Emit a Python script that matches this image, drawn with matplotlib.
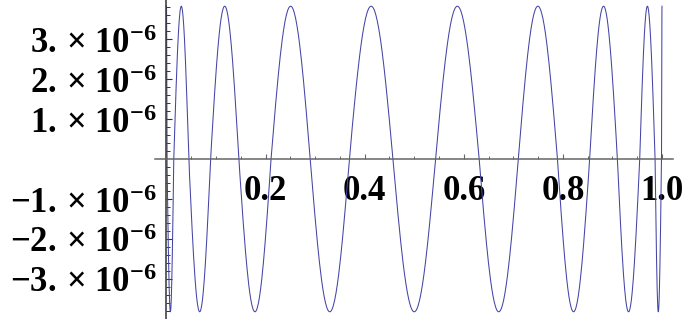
import matplotlib
matplotlib.use("Agg")
import matplotlib.pyplot as plt
import numpy as np

plt.rcParams['mathtext.fontset'] = 'custom'
plt.rcParams['mathtext.rm'] = 'Liberation Serif:bold'
plt.rcParams['mathtext.bf'] = 'Liberation Serif:bold'
plt.rcParams['mathtext.it'] = 'Liberation Serif:bold'

# zero crossings of the error curve
zeros = [0.001, 0.0147, 0.045, 0.089, 0.146, 0.211, 0.290, 0.369, 0.457,
         0.543, 0.631, 0.710, 0.789, 0.854, 0.910, 0.955, 0.986, 0.999]
amplitude = 3.82e-6
x_start, x_end = 0.0, 1.0

xticks_major = [0.2, 0.4, 0.6, 0.8, 1.0]
xtick_labels = ['0.2', '0.4', '0.6', '0.8', '1.0']
yticks_major = [-3e-6, -2e-6, -1e-6, 1e-6, 2e-6, 3e-6]
ytick_labels = [r'$-3.\,\mathrm{×}\;10^{-6}$', r'$-2.\,\mathrm{×}\;10^{-6}$', r'$-1.\,\mathrm{×}\;10^{-6}$',
                r'$1.\,\mathrm{×}\;10^{-6}$', r'$2.\,\mathrm{×}\;10^{-6}$', r'$3.\,\mathrm{×}\;10^{-6}$']

# build the curve lobe by lobe: quarter waves at the ends, half waves between zeros
xs, ys = [], []
t = np.linspace(0, 1, 60)
xs.append(x_start + t * (zeros[0] - x_start)); ys.append(amplitude * np.cos(np.pi / 2 * t))
sign = -1
for a, b in zip(zeros[:-1], zeros[1:]):
    xs.append(a + t * (b - a)); ys.append(sign * amplitude * np.sin(np.pi * t))
    sign = -sign
xs.append(zeros[-1] + t * (x_end - zeros[-1])); ys.append(amplitude * np.sin(np.pi / 2 * t))
xc = np.concatenate(xs)
yc = np.concatenate(ys)

fig = plt.figure(figsize=(6.85, 3.19), dpi=100)
ax = fig.add_axes([0, 0, 1, 1])
ax.plot(xc, yc, color='#4444a6', lw=0.75)

ax.set_xlim(-0.336, 1.0464)
ax.set_ylim(-4.0e-6, 3.975e-6)

for s in ['top', 'right']:
    ax.spines[s].set_visible(False)
ax.spines['left'].set_position(('data', 0))
ax.spines['bottom'].set_position(('data', 0))
ax.spines['bottom'].set_bounds(-0.023, 1.022)
ax.spines['bottom'].set_color('#666666')
ax.spines['left'].set_color('#333333')
ax.spines['bottom'].set_linewidth(1.1)
ax.spines['left'].set_linewidth(1.1)

ax.set_xticks(xticks_major, xtick_labels)
ax.set_xticks(np.arange(0.05, 1.001, 0.05), minor=True)
ax.set_yticks(yticks_major, ytick_labels)
ax.set_yticks([v * 1e-7 for v in range(-38, 40, 2) if v % 10 != 0], minor=True)

ax.tick_params(axis='x', which='both', direction='in', color='#666666', pad=11.5)
ax.tick_params(axis='x', which='major', length=3.6, width=0.8, labelsize=25)
ax.tick_params(axis='x', which='minor', length=2.5, width=0.7)
ax.tick_params(axis='y', which='both', direction='in', color='#333333', pad=7)
ax.tick_params(axis='y', which='major', length=4.3, width=0.8, labelsize=25)
ax.tick_params(axis='y', which='minor', length=2.8, width=0.7)
for lab in ax.get_xticklabels():
    lab.set_family('Liberation Serif')
    lab.set_weight('bold')

fig.savefig('out.png', dpi=100)
